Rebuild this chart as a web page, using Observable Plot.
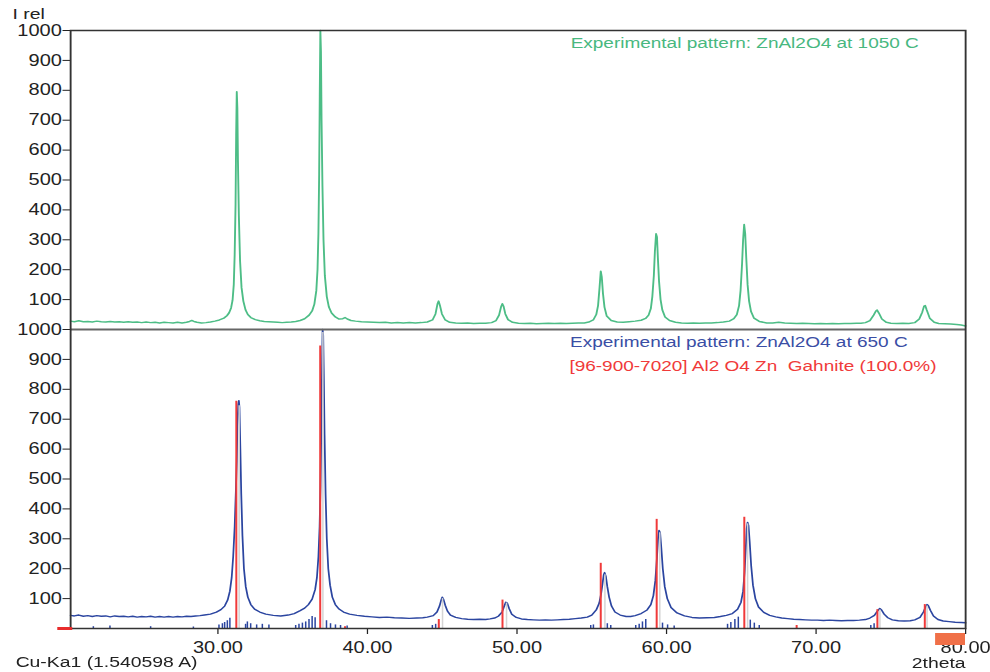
<!DOCTYPE html>
<html><head><meta charset="utf-8">
<script src="https://cdn.jsdelivr.net/npm/d3@7"></script>
<script src="https://cdn.jsdelivr.net/npm/@observablehq/plot@0.6"></script>
<style>
html,body{margin:0;padding:0;background:#fff;overflow:hidden}
#chart{width:792px;transform:scaleX(1.25);transform-origin:0 0;}
#chart svg text{white-space:pre;}
</style></head><body><div id="chart"></div>
<script>
// ---- data ----
const xTicks = [30, 40, 50, 60, 70, 80];
const yTickLabels = [100, 200, 300, 400, 500, 600, 700, 800, 900, 1000];
const xDomain = [20.15, 80];
const panelOffset = 1000; // top panel stacked above bottom panel

const legend1050 = "Experimental pattern: ZnAl2O4 at 1050 C";
const legend650 = "Experimental pattern: ZnAl2O4 at 650 C";
const legendRef = "[96-900-7020] Al2 O4 Zn  Gahnite (100.0%)";
const yTitle = "I rel";
const xTitle = "2theta";
const wavelength = "Cu-Ka1 (1.540598 A)";

// [2theta, intensity] ZnAl2O4 at 1050 C (green, top panel)
const pattern1050 = [[20.15,28],[20.4,26],[20.7,29],[21.0,26],[21.3,27],[21.6,25],[21.9,28],[22.2,26],[22.5,25],[22.8,27],[23.1,25],[23.4,26],[23.7,24],[24.0,26],[24.3,24],[24.6,25],[24.9,23],[25.2,25],[25.5,23],[25.8,24],[26.1,22],[26.4,24],[26.7,23],[27.0,22],[27.3,24],[27.6,22],[27.9,24],[28.1,27],[28.25,30],[28.4,27],[28.6,24],[28.9,22],[29.2,23],[29.5,25],[29.8,28],[30.1,32],[30.4,38],[30.6,46],[30.75,56],[30.88,72],[30.98,98],[31.06,150],[31.12,250],[31.18,420],[31.22,650],[31.26,795],[31.3,740],[31.34,560],[31.4,380],[31.48,230],[31.58,140],[31.7,95],[31.85,65],[32.0,50],[32.2,40],[32.5,33],[32.8,29],[33.1,27],[33.4,26],[33.7,25],[34.0,24],[34.3,23],[34.6,24],[34.9,25],[35.2,27],[35.5,30],[35.8,36],[36.1,48],[36.3,62],[36.45,85],[36.58,130],[36.66,200],[36.72,320],[36.77,520],[36.81,780],[36.85,1000],[36.89,930],[36.93,700],[36.99,480],[37.06,300],[37.15,180],[37.28,110],[37.42,75],[37.6,55],[37.85,42],[38.1,35],[38.35,36],[38.5,40],[38.65,35],[38.9,30],[39.2,28],[39.6,26],[40.0,25],[40.4,24],[40.8,23],[41.2,24],[41.6,22],[42.0,23],[42.4,22],[42.8,23],[43.2,22],[43.6,23],[44.0,25],[44.35,32],[44.55,52],[44.68,85],[44.76,95],[44.85,80],[44.98,52],[45.2,32],[45.5,24],[45.9,22],[46.3,21],[46.7,22],[47.1,20],[47.5,21],[47.9,21],[48.3,23],[48.6,30],[48.8,48],[48.93,75],[49.02,86],[49.1,78],[49.22,52],[49.4,33],[49.7,24],[50.1,21],[50.5,20],[50.9,21],[51.3,19],[51.7,20],[52.1,21],[52.5,20],[52.9,21],[53.3,20],[53.7,21],[54.1,22],[54.5,22],[54.8,25],[55.1,32],[55.3,50],[55.42,80],[55.52,140],[55.6,195],[55.67,175],[55.75,120],[55.85,75],[56.0,45],[56.3,30],[56.7,25],[57.1,24],[57.5,26],[57.9,28],[58.3,31],[58.6,37],[58.8,48],[58.95,70],[59.05,110],[59.15,180],[59.22,260],[59.3,320],[59.36,310],[59.42,240],[59.5,160],[59.6,100],[59.72,65],[59.9,42],[60.2,30],[60.6,24],[61.0,22],[61.4,21],[61.8,22],[62.2,21],[62.6,22],[63.0,22],[63.4,23],[63.8,25],[64.2,28],[64.5,36],[64.7,50],[64.85,80],[64.95,130],[65.05,220],[65.12,300],[65.19,351],[65.26,320],[65.33,240],[65.42,150],[65.52,95],[65.65,60],[65.85,38],[66.2,27],[66.7,22],[67.1,22],[67.5,24],[67.9,22],[68.3,21],[68.7,20],[69.1,21],[69.5,20],[69.9,19],[70.3,20],[70.7,19],[71.1,20],[71.5,19],[71.9,20],[72.3,20],[72.7,21],[73.0,21],[73.3,23],[73.6,30],[73.85,48],[74.0,62],[74.08,65],[74.2,55],[74.4,35],[74.7,24],[75.0,21],[75.4,20],[75.8,21],[76.2,20],[76.6,23],[76.9,35],[77.1,58],[77.22,78],[77.3,80],[77.4,65],[77.6,38],[77.9,24],[78.2,20],[78.6,19],[79.0,18],[79.4,17],[79.7,15],[80.0,12]];

// [2theta, intensity] ZnAl2O4 at 650 C (blue, bottom panel)
const pattern650 = [[20.15,44],[20.4,42],[20.7,45],[21.0,41],[21.3,43],[21.6,40],[21.9,43],[22.2,41],[22.5,42],[22.8,39],[23.1,42],[23.4,40],[23.7,41],[24.0,39],[24.3,41],[24.6,38],[24.9,40],[25.2,39],[25.5,41],[25.8,38],[26.1,40],[26.4,38],[26.7,40],[27.0,38],[27.3,40],[27.6,39],[27.9,41],[28.2,40],[28.5,42],[28.8,43],[29.1,45],[29.5,48],[29.9,55],[30.2,63],[30.45,75],[30.65,95],[30.8,125],[30.92,170],[31.02,240],[31.12,340],[31.2,460],[31.26,560],[31.3,680],[31.36,750],[31.4,762],[31.44,740],[31.5,600],[31.56,450],[31.64,310],[31.74,200],[31.86,140],[32.0,105],[32.2,80],[32.45,65],[32.8,55],[33.2,48],[33.7,44],[34.2,42],[34.7,45],[35.1,50],[35.5,60],[35.8,68],[36.05,80],[36.3,98],[36.5,130],[36.62,170],[36.72,240],[36.8,340],[36.86,480],[36.9,620],[36.94,780],[36.97,900],[37.0,1000],[37.04,980],[37.08,850],[37.13,650],[37.2,450],[37.28,300],[37.38,200],[37.5,145],[37.65,105],[37.85,80],[38.1,65],[38.4,55],[38.8,48],[39.3,44],[39.8,41],[40.3,39],[40.8,37],[41.3,38],[41.8,36],[42.3,35],[42.8,34],[43.3,35],[43.7,36],[44.0,38],[44.4,43],[44.65,55],[44.82,75],[44.93,95],[45.0,105],[45.08,98],[45.2,78],[45.35,58],[45.55,45],[45.9,37],[46.3,33],[46.7,31],[47.1,30],[47.5,31],[47.9,30],[48.2,32],[48.5,35],[48.75,41],[49.0,55],[49.15,75],[49.25,88],[49.35,85],[49.48,66],[49.65,48],[49.95,37],[50.3,32],[50.7,30],[51.1,29],[51.5,28],[51.9,29],[52.3,28],[52.7,29],[53.1,30],[53.5,31],[53.9,33],[54.3,35],[54.7,38],[55.0,45],[55.3,62],[55.5,85],[55.62,115],[55.72,150],[55.8,180],[55.86,187],[55.94,175],[56.04,140],[56.16,105],[56.32,75],[56.55,55],[56.9,45],[57.3,40],[57.6,40],[57.9,43],[58.3,50],[58.7,62],[58.95,80],[59.12,110],[59.25,160],[59.35,230],[59.43,300],[59.5,328],[59.57,320],[59.65,270],[59.75,200],[59.88,140],[60.05,100],[60.3,70],[60.7,52],[61.2,42],[61.7,37],[62.2,35],[62.7,36],[63.2,37],[63.6,40],[64.0,44],[64.4,50],[64.75,64],[64.98,88],[65.12,125],[65.22,190],[65.3,270],[65.36,335],[65.42,355],[65.48,345],[65.56,290],[65.66,210],[65.78,145],[65.94,100],[66.15,72],[66.5,54],[66.9,44],[67.3,39],[67.7,35],[68.1,33],[68.5,31],[68.9,30],[69.3,29],[69.7,28],[70.1,28],[70.5,27],[70.9,28],[71.3,27],[71.7,26],[72.1,27],[72.5,27],[72.9,28],[73.3,30],[73.6,35],[73.9,44],[74.1,58],[74.26,67],[74.38,62],[74.55,48],[74.8,36],[75.1,29],[75.5,26],[75.9,25],[76.3,26],[76.6,29],[76.95,37],[77.18,55],[77.32,72],[77.42,80],[77.5,77],[77.65,60],[77.85,42],[78.15,30],[78.5,25],[78.9,23],[79.3,21],[79.7,20],[80.0,19]];

// detected peaks of the 650 C pattern (grey markers)
const peaks650 = [[31.42,745],[37.02,990],[45.02,100],[49.3,85],[55.88,180],[59.55,320],[65.42,350],[74.27,62],[77.42,75]];

// reference card 96-900-7020 Gahnite (red sticks)
const gahnite = [[31.23,760],[36.84,945],[38.5,6],[44.77,30],[49.03,95],[55.6,218],[59.34,365],[65.2,372],[68.7,10],[74.1,63],[77.27,80]];

// small blue sticks along the baseline
const baselineSticks = [[21.67,6],[22.78,8],[25.5,6],[28.36,5],[30.07,12],[30.3,16],[30.45,20],[30.63,26],[30.8,34],[31.85,14],[31.97,22],[32.19,16],[32.59,12],[32.97,14],[33.41,12],[35.2,10],[35.42,14],[35.65,18],[35.87,22],[36.09,30],[36.3,40],[36.5,36],[37.26,26],[37.53,16],[37.86,12],[38.2,10],[38.64,8],[44.34,10],[44.56,14],[54.93,10],[55.11,12],[56.04,16],[56.27,10],[57.94,10],[58.17,14],[58.39,22],[58.61,30],[59.73,18],[60.07,12],[60.51,8],[64.08,14],[64.3,20],[64.57,30],[64.8,38],[65.6,28],[65.87,18],[66.2,10],[73.66,10],[73.88,16]];

// range markers under the axis
const leftMarker = [[19.3, 20.3]];
const rangeMarker = [[78.0, 80.0]];

// ---- chart ----
const green = "#4dbd86", blue = "#2b45a0", red = "#f03a3a";
const top1050 = pattern1050.map(([t, i]) => ({t, i: i + panelOffset}));
const bottom650 = pattern650.map(([t, i]) => ({t, i}));

const chart = Plot.plot({
  width: 792, height: 672,
  marginLeft: 56, marginRight: 20, marginTop: 30, marginBottom: 44,
  style: {fontFamily: "'Liberation Sans', Arial, sans-serif", fontSize: "16px", color: "#222", background: "#fff", overflow: "visible"},
  x: {domain: xDomain, ticks: xTicks, tickFormat: d => d.toFixed(2), tickSize: 6, tickPadding: 7, label: null},
  y: {domain: [0, 2 * panelOffset], ticks: [...yTickLabels, ...yTickLabels.map(v => v + panelOffset)],
      tickFormat: d => String(d > panelOffset ? d - panelOffset : d), tickSize: 6, tickPadding: 1, label: null},
  marks: [
    Plot.ruleX(baselineSticks, {x: d => d[0], y1: 0, y2: d => d[1], stroke: blue, strokeWidth: 1.2}),
    Plot.line(top1050, {x: "t", y: "i", stroke: green, strokeWidth: 1.5}),
    Plot.line(bottom650, {x: "t", y: "i", stroke: blue, strokeWidth: 1.4}),
    Plot.ruleX(peaks650, {x: d => d[0], y1: 0, y2: d => d[1], stroke: "#d4d4d4", strokeWidth: 1.2}),
    Plot.ruleX(gahnite, {x: d => d[0], y1: 0, y2: d => d[1], stroke: red, strokeWidth: 1.6}),
    Plot.ruleY([panelOffset], {stroke: "#666", strokeWidth: 2}),
    Plot.frame({stroke: "#333", strokeWidth: 1.5}),
    Plot.rect(leftMarker, {x1: d => d[0], x2: d => d[1], fill: "#e82c2c", insetTop: 597, insetBottom: -2}),
    Plot.rect(rangeMarker, {x1: d => d[0], x2: d => d[1], fill: "#f07048", insetTop: 603, insetBottom: -17}),
    Plot.text([yTitle], {text: d => d, frameAnchor: "top-left", textAnchor: "start", lineAnchor: "top", dx: -46.5, dy: -23, fontSize: 15.5, fill: "#222"}),
    Plot.text([legend1050], {text: d => d, frameAnchor: "top-left", textAnchor: "start", lineAnchor: "middle", dx: 400, dy: 13, fontSize: 15.2, fill: "#48b87f"}),
    Plot.text([legend650], {text: d => d, frameAnchor: "top-left", textAnchor: "start", lineAnchor: "middle", dx: 399.5, dy: 312, fontSize: 15.2, fill: "#3a4ea5"}),
    Plot.text([legendRef], {text: d => d, frameAnchor: "top-left", textAnchor: "start", lineAnchor: "middle", dx: 399, dy: 336, fontSize: 15.2, fill: red}),
    Plot.text([wavelength], {text: d => d, frameAnchor: "bottom-left", textAnchor: "start", lineAnchor: "middle", dx: -44, dy: 34, fontSize: 15.5, fill: "#222"}),
    Plot.text([xTitle], {text: d => d, frameAnchor: "bottom-right", textAnchor: "end", lineAnchor: "middle", dx: 0, dy: 35, fontSize: 15.5, fill: "#222"})
  ]
});
document.getElementById("chart").appendChild(chart);
</script></body></html>
